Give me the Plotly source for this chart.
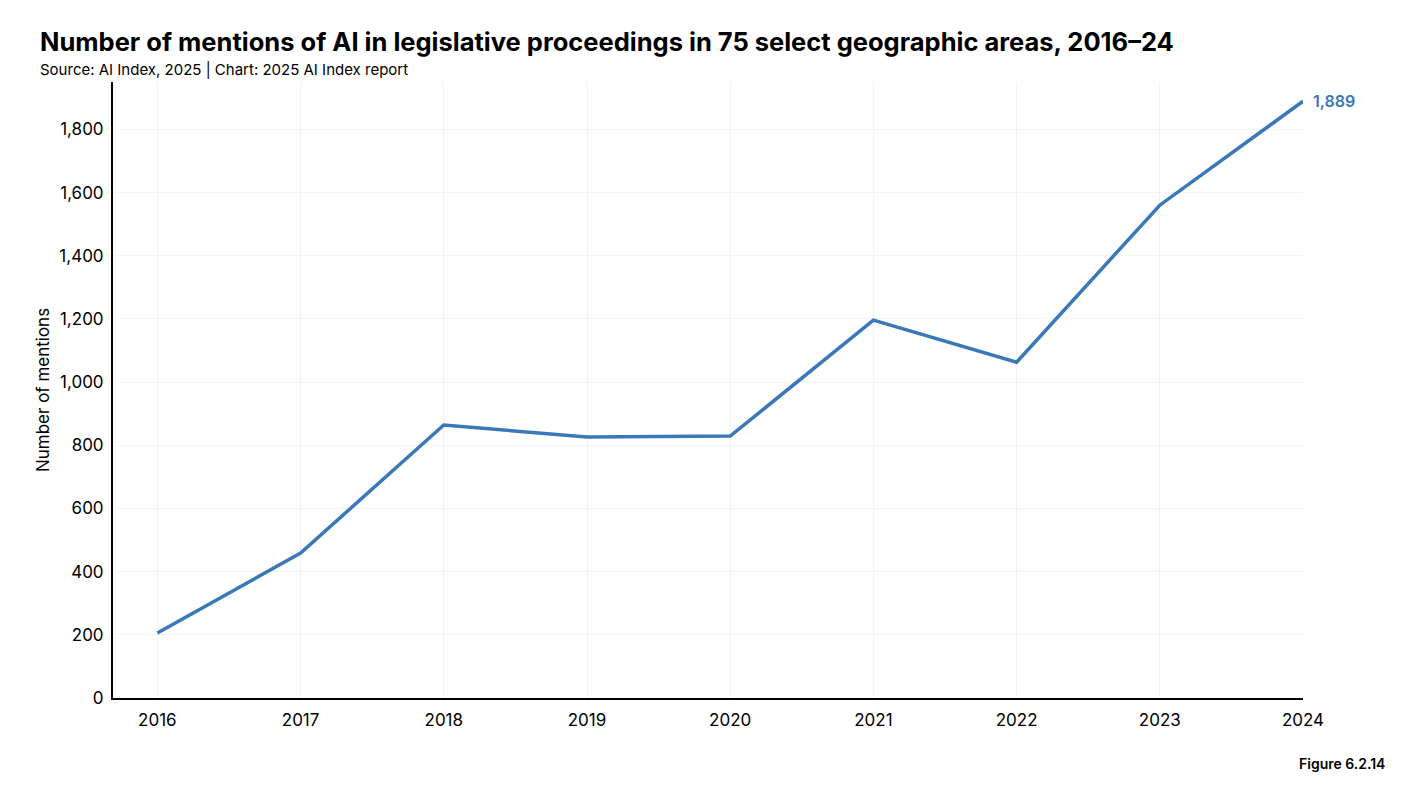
import plotly.graph_objects as go

years = [2016, 2017, 2018, 2019, 2020, 2021, 2022, 2023, 2024]
mentions = [206, 459, 864, 826, 829, 1196, 1063, 1560, 1889]
y_ticks = [0, 200, 400, 600, 800, 1000, 1200, 1400, 1600, 1800]

blue = '#3a78ba'
font_name = 'Inter'

fig = go.Figure()
fig.add_trace(go.Scatter(x=years, y=mentions, mode='lines',
                         line=dict(color=blue, width=3.5),
                         hoverinfo='x+y', showlegend=False))

# last value label
fig.add_annotation(x=years[-1], y=mentions[-1], text=f"{mentions[-1]:,}",
                   showarrow=False, xanchor='left', yanchor='middle', xshift=8,
                   font=dict(family=font_name, size=16, color=blue, weight=600))

# page body adds 8px margin, so the figure is a bit smaller than the window
fig.update_layout(
    width=1390, height=772,
    margin=dict(l=105, r=95, t=74, b=82),
    plot_bgcolor='white', paper_bgcolor='white',
    font=dict(family=font_name, size=17, color='black'),
    xaxis=dict(range=[2015.69, 2024], tickvals=years, ticktext=[str(y) for y in years],
               showgrid=True, gridcolor='#f3f3f3', gridwidth=1,
               showline=True, linecolor='black', linewidth=2,
               ticks='', ticklabelstandoff=6, zeroline=False, fixedrange=True),
    yaxis=dict(range=[0, 1950], tickvals=y_ticks, tickformat=',',
               showgrid=True, gridcolor='#f3f3f3', gridwidth=1,
               showline=True, linecolor='black', linewidth=2,
               ticks='', ticklabelstandoff=4, zeroline=False,
               title=dict(text='Number of mentions', font=dict(size=17), standoff=5),
               fixedrange=True),
)

fig.add_annotation(xref='paper', yref='paper', x=-0.063, y=1.065, xanchor='left', yanchor='middle',
                   text='Number of mentions of AI in legislative proceedings in 75 select geographic areas, 2016–24',
                   showarrow=False, font=dict(family=font_name, size=25.5, color='black', weight=700))
fig.add_annotation(xref='paper', yref='paper', x=-0.063, y=1.021, xanchor='left', yanchor='middle',
                   text='Source: AI Index, 2025 | Chart: 2025 AI Index report',
                   showarrow=False, font=dict(family=font_name, size=15, color='black'))
fig.add_annotation(xref='paper', yref='paper', x=1.071, y=-0.107, xanchor='right', yanchor='middle',
                   text='Figure 6.2.14',
                   showarrow=False, font=dict(family=font_name, size=14, color='black', weight=600))

fig.write_html("out.html")
